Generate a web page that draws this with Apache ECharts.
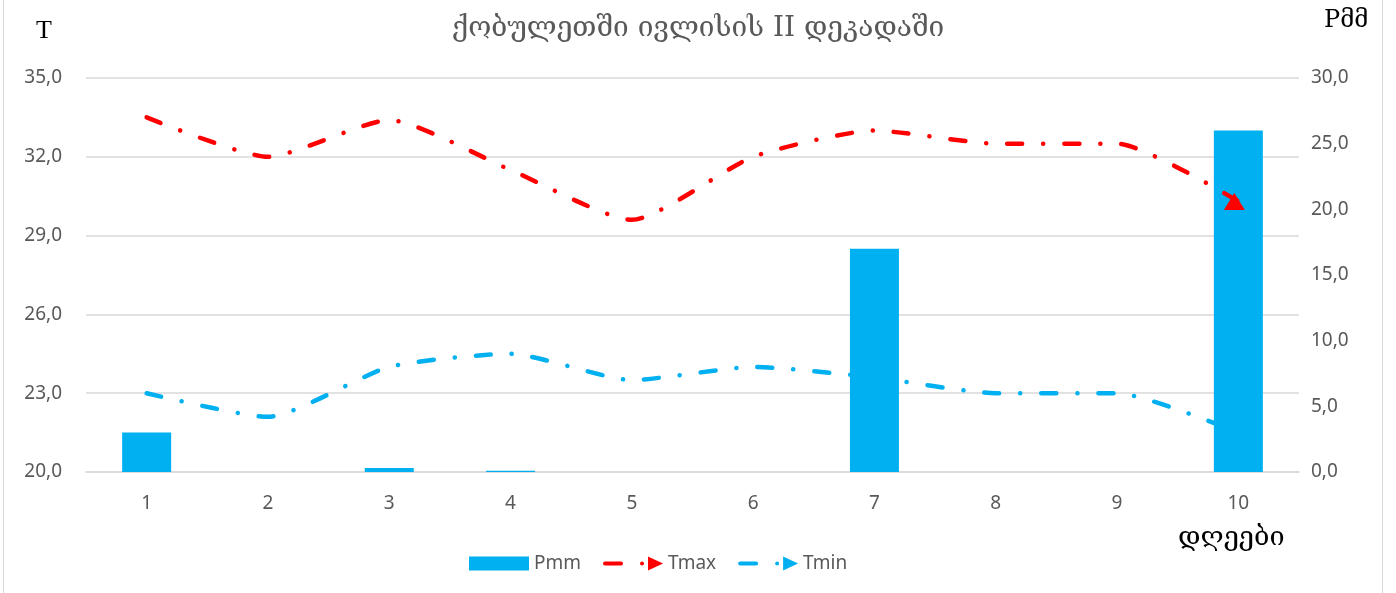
<!DOCTYPE html>
<html>
<head>
<meta charset="utf-8">
<script src="https://cdn.jsdelivr.net/npm/echarts@6/dist/echarts.min.js"></script>
<style>
  html, body { margin: 0; padding: 0; background: #fff; }
  #chart { width: 1396px; height: 593px; }
</style>
</head>
<body>
<div id="chart"></div>
<script>
// დღეები
const days = ["1", "2", "3", "4", "5", "6", "7", "8", "9", "10"];
// ნალექი, მმ
const pmm = [3.0, 0, 0.3, 0.1, 0, 0, 17.0, 0, 0, 26.0];
// ტემპერატურა
const tmax = [33.5, 32.0, 33.4, 31.5, 29.6, 32.0, 33.0, 32.5, 32.5, 30.3];
const tmin = [23.0, 22.1, 24.0, 24.5, 23.5, 24.0, 23.6, 23.0, 23.0, 21.5];

const titleText = "ქობულეთში ივლისის II დეკადაში";
const leftName = "T";
const rightName = "Pმმ";
const xName = "დღეები";

const grey = "#595959";
const gridColor = "#d9d9d9";
const numFont = "Noto Sans";
const geoFont = "DejaVu Serif";

// dash + dot + arrow, like the excel legend
const lineIcon =
  "path://M2,5 L18,5 A2,2 0 0 1 18,9 L2,9 A2,2 0 0 1 2,5 Z " +
  "M37,7 A2,2 0 1 0 41,7 A2,2 0 1 0 37,7 Z M45,0 L60,7 L45,14 Z";

function comma(v) {
  return v.toFixed(1).replace(".", ",");
}

// only the last point gets the arrow
function withArrow(arr) {
  return arr.map((v, i) =>
    i === arr.length - 1
      ? {
          value: v,
          symbol: "triangle",
          symbolSize: [21, 17],
          symbolRotate: 0,
          symbolOffset: [-4, 0],
        }
      : { value: v, symbol: "none" }
  );
}

const myChart = echarts.init(document.getElementById("chart"));

const option = {
  backgroundColor: "#ffffff",
  animation: false,
  title: {
    text: titleText,
    left: "center",
    top: 10,
    textStyle: {
      fontFamily: geoFont,
      fontSize: 28,
      fontWeight: "normal",
      color: grey,
    },
  },
  graphic: [
    {
      type: "rect",
      silent: true,
      shape: { x: 3.5, y: -10, width: 1379, height: 620 },
      style: { fill: "none", stroke: gridColor, lineWidth: 1 },
    },
    {
      type: "text",
      left: 36,
      top: 18,
      style: { text: leftName, font: "26px 'Liberation Serif'", fill: "#000" },
    },
    {
      type: "text",
      left: 1324,
      top: 9,
      style: { text: rightName, font: "24px 'DejaVu Serif'", fill: "#000" },
    },
    {
      type: "text",
      left: 1178,
      top: 524,
      style: { text: xName, font: "27px 'DejaVu Serif'", fill: "#000" },
    },
  ],
  legend: {
    data: [
      { name: "Pmm", icon: "rect" },
      { name: "Tmax", icon: lineIcon },
      { name: "Tmin", icon: lineIcon },
    ],
    left: 464,
    top: 549,
    itemWidth: 60,
    itemHeight: 14,
    itemGap: 22,
    textStyle: { fontFamily: numFont, fontSize: 19, color: grey },
  },
  grid: {
    left: 86,
    right: 97,
    top: 78,
    bottom: 121,
  },
  xAxis: {
    type: "category",
    data: days,
    axisLine: { lineStyle: { color: gridColor, width: 1.5 } },
    axisTick: { show: false },
    axisLabel: {
      margin: 22,
      fontFamily: numFont,
      fontSize: 19,
      color: grey,
    },
  },
  yAxis: [
    {
      type: "value",
      min: 20,
      max: 35,
      interval: 3,
      axisLine: { show: false },
      axisTick: { show: false },
      splitLine: { lineStyle: { color: gridColor, width: 1.5 } },
      axisLabel: {
        margin: 24,
        fontFamily: numFont,
        fontSize: 19,
        color: grey,
        formatter: comma,
      },
    },
    {
      type: "value",
      min: 0,
      max: 30,
      interval: 5,
      axisLine: { show: false },
      axisTick: { show: false },
      splitLine: { show: false },
      axisLabel: {
        margin: 12,
        fontFamily: numFont,
        fontSize: 19,
        color: grey,
        formatter: comma,
      },
    },
  ],
  series: [
    // drawn first so the bars cover it
    {
      name: "Tmin",
      type: "line",
      yAxisIndex: 0,
      smooth: 0.2,
      data: withArrow(tmin),
      color: "#00b0f0",
      itemStyle: { color: "#00b0f0" },
      lineStyle: {
        color: "#00b0f0",
        width: 4.5,
        type: [15, 21, 0.1, 21],
        cap: "round",
      },
    },
    {
      name: "Pmm",
      type: "bar",
      yAxisIndex: 1,
      barWidth: 49,
      data: pmm,
      itemStyle: { color: "#00b0f0" },
    },
    {
      name: "Tmax",
      type: "line",
      yAxisIndex: 0,
      smooth: 0.2,
      data: withArrow(tmax),
      color: "#ff0000",
      itemStyle: { color: "#ff0000" },
      lineStyle: {
        color: "#ff0000",
        width: 4.5,
        type: [15, 21, 0.1, 21],
        cap: "round",
      },
    },
  ],
};

myChart.setOption(option);
</script>
</body>
</html>
